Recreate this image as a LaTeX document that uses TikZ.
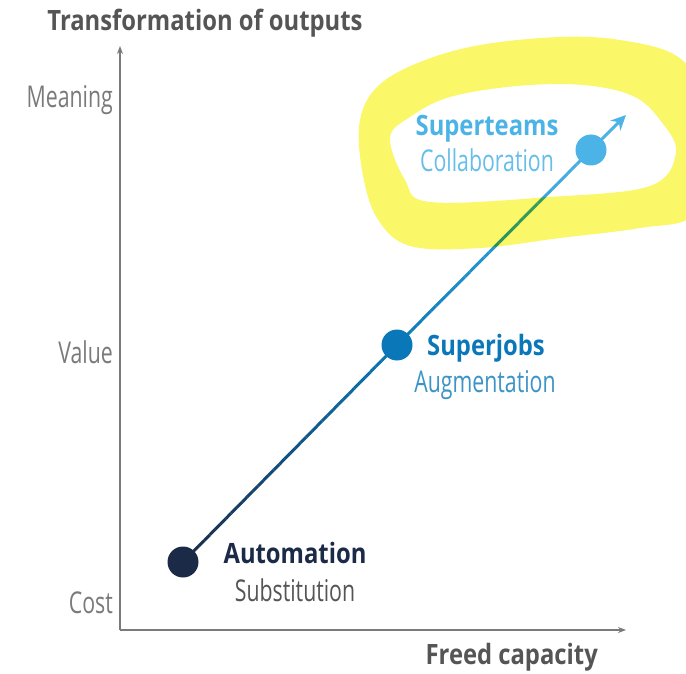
\documentclass[tikz,border=0pt]{standalone}
\usepackage{fontspec}
\setmainfont[FakeStretch=0.71,BoldFeatures={FakeStretch=0.85}]{Open Sans}
\usetikzlibrary{arrows.meta,calc}
\definecolor{navy}{HTML}{1B2A47}
\definecolor{midblue}{HTML}{0A78B8}
\definecolor{lightblue}{HTML}{4CB3E6}
\definecolor{axisgray}{HTML}{7A7A7A}
\definecolor{titlegray}{HTML}{555555}
\definecolor{hl}{RGB}{250,247,105}
\newcommand\regsize{\fontsize{30}{36}\selectfont}
\newcommand\boldsize{\fontsize{28}{36}\selectfont\bfseries}
\tikzset{
  axis/.style={draw=axisgray, line width=1.4pt, -{Stealth[length=8pt,width=6pt]}},
  ticklabel/.style={text=axisgray, font=\regsize, anchor=east, inner sep=0pt},
  axistitle/.style={text=titlegray, font=\boldsize, inner sep=0pt},
  dot/.style={circle, fill=#1, minimum size=31pt, inner sep=0pt},
  headlbl/.style={font=\boldsize, text=#1, inner sep=0pt, anchor=base},
  sublbl/.style={font=\regsize, text=#1, inner sep=0pt, anchor=base},
}
\begin{document}
\begin{tikzpicture}[x=1pt,y=-1pt]
\useasboundingbox (0,0) rectangle (686,674);
\clip (0,0) rectangle (686,674);
% axes
\coordinate (origin) at (120,630);
\coordinate (ytop) at (120,46);
\coordinate (xend) at (626,630);
\draw[axis] (origin) -- (ytop);
\draw[axis] (origin) -- (xend);
\node[axistitle] (ytitle) at (205,23) {Transformation of outputs};
\node[axistitle, anchor=east] (xtitle) at (598,657) {Freed capacity};
\node[ticklabel] (meaning) at (113,100) {Meaning};
\node[ticklabel] (value) at (113,352) {Value};
\node[ticklabel] (cost) at (113,603) {Cost};
% points
\coordinate (autoc) at (183,562);
\coordinate (jobsc) at (397,345);
\coordinate (teamsc) at (591,150);
\coordinate (tip) at (626,115);
\foreach \i in {0,...,39} {
  \pgfmathsetmacro\ta{\i/40}
  \pgfmathsetmacro\tb{(\i+1)/40}
  \pgfmathsetmacro\pc{100*\i/39}
  \draw[line width=3pt, midblue!\pc!navy] ($(autoc)!\ta!(jobsc)$) -- ($(autoc)!\tb!(jobsc)$);
}
\foreach \i in {0,...,39} {
  \pgfmathsetmacro\ta{\i/40}
  \pgfmathsetmacro\tb{(\i+1)/40}
  \pgfmathsetmacro\pc{100*\i/39}
  \draw[line width=3pt, lightblue!\pc!midblue] ($(jobsc)!\ta!(teamsc)$) -- ($(jobsc)!\tb!(teamsc)$);
}
\draw[line width=3pt, lightblue, -{Stealth[length=15pt,width=14pt]}] (teamsc) -- (tip);
\node[dot=navy] (auto) at (autoc) {};
\node[dot=midblue] (jobs) at (jobsc) {};
\node[dot=lightblue] (teams) at (teamsc) {};
% labels
\node[headlbl=navy] (autohead) at (295,563) {Automation};
\node[sublbl=titlegray] (autosub) at (295,601) {Substitution};
\node[headlbl=midblue] (jobshead) at (486,355) {Superjobs};
\node[sublbl=midblue!80!white] (jobssub) at (485,392) {Augmentation};
\node[headlbl=lightblue] (teamshead) at (487,136) {Superteams};
\node[sublbl=lightblue!85!white] (teamssub) at (487,172) {Collaboration};
% highlight
\begin{scope}[blend mode=multiply]
\fill[hl, even odd rule]
  plot[smooth cycle, tension=0.6] coordinates {
    (360,120) (378,86) (420,62) (480,45) (560,37) (620,40) (675,55) (702,90)
    (704,150) (694,214) (640,228) (560,238) (480,248) (410,246) (377,218) (362,170)}
  plot[smooth cycle, tension=0.6] coordinates {
    (390,138) (410,117) (450,97) (517,86) (583,85) (633,96) (660,120) (676,152)
    (650,186) (550,197) (430,202) (405,180)};
\end{scope}
\end{tikzpicture}
\end{document}
